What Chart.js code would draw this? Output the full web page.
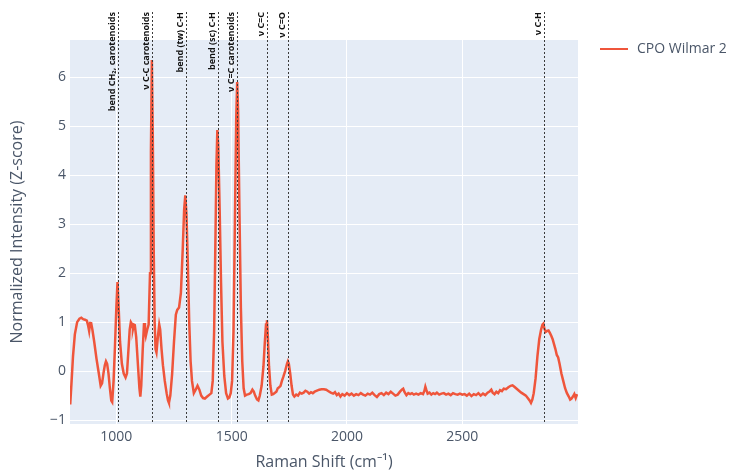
<!DOCTYPE html>
<html>
<head>
<meta charset="utf-8">
<script src="https://cdn.jsdelivr.net/npm/chart.js@4.4.0/dist/chart.umd.min.js"></script>
<style>
	body { margin: 0; background: #fff; }
	#wrap { width: 730px; height: 472px; }
</style>
</head>
<body>
<div id="wrap"><canvas id="chartCanvas" width="730" height="472"></canvas></div>
<script>
// Raman shift (cm-1) and z-score intensity
const shifts = [
	800, 806, 812, 820, 830, 840, 848, 856, 864, 872, 878, 882, 886, 890, 896, 904, 914, 924, 932, 938,
	944, 950, 955, 960, 966, 972, 978, 982, 988, 994, 1000, 1005, 1010, 1016, 1024, 1032, 1040, 1046, 1052, 1058,
	1063, 1068, 1072, 1076, 1080, 1086, 1094, 1100, 1104, 1108, 1114, 1120, 1124, 1128, 1134, 1140, 1146, 1150, 1154, 1158,
	1162, 1166, 1170, 1174, 1180, 1186, 1190, 1196, 1202, 1210, 1218, 1224, 1228, 1234, 1242, 1250, 1258, 1264, 1272, 1280,
	1288, 1294, 1299, 1304, 1310, 1316, 1322, 1328, 1336, 1344, 1352, 1360, 1368, 1376, 1384, 1394, 1404, 1412, 1418, 1424,
	1430, 1434, 1438, 1442, 1448, 1454, 1460, 1468, 1476, 1484, 1490, 1496, 1502, 1508, 1514, 1520, 1524, 1528, 1534, 1540,
	1546, 1552, 1558, 1566, 1574, 1582, 1590, 1596, 1602, 1610, 1616, 1622, 1630, 1638, 1644, 1649, 1653, 1657, 1662, 1668,
	1674, 1680, 1688, 1694, 1700, 1706, 1712, 1718, 1724, 1732, 1740, 1744, 1748, 1754, 1760, 1766, 1772, 1780, 1788, 1796,
	1804, 1812, 1820, 1828, 1836, 1844, 1852, 1860, 1870, 1880, 1890, 1900, 1910, 1920, 1930, 1940, 1948, 1956, 1964, 1972,
	1980, 1990, 2000, 2010, 2020, 2030, 2040, 2050, 2060, 2070, 2080, 2090, 2100, 2110, 2120, 2130, 2140, 2150, 2160, 2170,
	2180, 2190, 2200, 2210, 2220, 2230, 2238, 2244, 2250, 2258, 2266, 2274, 2282, 2290, 2300, 2310, 2320, 2330, 2336, 2340,
	2344, 2350, 2358, 2366, 2374, 2382, 2390, 2400, 2410, 2420, 2430, 2440, 2450, 2460, 2470, 2480, 2490, 2500, 2510, 2520,
	2530, 2540, 2550, 2560, 2570, 2580, 2590, 2600, 2610, 2620, 2626, 2632, 2640, 2648, 2656, 2664, 2672, 2680, 2690, 2700,
	2710, 2718, 2726, 2736, 2746, 2756, 2766, 2776, 2784, 2792, 2798, 2804, 2810, 2818, 2826, 2834, 2842, 2848, 2852, 2856,
	2862, 2868, 2874, 2880, 2886, 2892, 2898, 2904, 2910, 2916, 2922, 2930, 2938, 2946, 2954, 2962, 2968, 2974, 2980, 2986,
	2992, 2998
]
const intensity = [
	-0.68, -0.2, 0.3, 0.75, 1.0, 1.07, 1.09, 1.06, 1.05, 1.03, 0.92, 0.82, 0.98, 1.0, 0.85, 0.6, 0.25, -0.05, -0.3, -0.25,
	-0.05, 0.12, 0.2, 0.15, -0.05, -0.35, -0.6, -0.63, -0.2, 0.5, 1.3, 1.82, 1.3, 0.6, 0.15, -0.05, -0.13, -0.05, 0.4, 0.85,
	1.0, 0.96, 0.86, 0.95, 0.94, 0.7, 0.1, -0.35, -0.52, -0.3, 0.4, 0.98, 0.85, 0.72, 0.85, 0.95, 2.0, 4.5, 6.35, 4.8,
	2.5, 1.0, 0.45, 0.38, 0.7, 0.95, 0.85, 0.45, 0.12, -0.2, -0.45, -0.6, -0.65, -0.5, -0.05, 0.6, 1.15, 1.25, 1.3, 1.6,
	2.5, 3.3, 3.59, 3.2, 2.2, 1.0, 0.2, -0.2, -0.45, -0.38, -0.3, -0.38, -0.5, -0.55, -0.56, -0.52, -0.48, -0.45, -0.2, 0.8,
	2.8, 4.2, 4.92, 4.6, 3.3, 1.8, 0.6, -0.1, -0.45, -0.56, -0.54, -0.45, -0.2, 0.8, 3.0, 5.2, 5.9, 5.3, 3.2, 1.3,
	0.2, -0.35, -0.5, -0.48, -0.47, -0.45, -0.38, -0.42, -0.5, -0.58, -0.6, -0.5, -0.3, 0.1, 0.6, 0.95, 1.04, 0.7, 0.1, -0.3,
	-0.48, -0.47, -0.44, -0.42, -0.35, -0.33, -0.3, -0.2, -0.12, 0.0, 0.15, 0.2, 0.15, -0.05, -0.3, -0.48, -0.52, -0.48, -0.5, -0.44,
	-0.46, -0.44, -0.4, -0.42, -0.46, -0.43, -0.45, -0.42, -0.4, -0.38, -0.37, -0.37, -0.38, -0.41, -0.44, -0.46, -0.43, -0.49, -0.46, -0.52,
	-0.47, -0.5, -0.45, -0.49, -0.46, -0.5, -0.47, -0.49, -0.45, -0.48, -0.5, -0.46, -0.48, -0.44, -0.49, -0.53, -0.47, -0.45, -0.49, -0.44,
	-0.47, -0.42, -0.46, -0.5, -0.48, -0.42, -0.38, -0.36, -0.43, -0.49, -0.45, -0.47, -0.45, -0.48, -0.46, -0.48, -0.45, -0.47, -0.4, -0.32,
	-0.38, -0.46, -0.44, -0.48, -0.45, -0.47, -0.44, -0.48, -0.46, -0.45, -0.48, -0.46, -0.49, -0.45, -0.47, -0.48, -0.46, -0.48, -0.47, -0.5,
	-0.46, -0.51, -0.47, -0.49, -0.45, -0.5, -0.46, -0.49, -0.44, -0.41, -0.38, -0.44, -0.47, -0.42, -0.45, -0.39, -0.41, -0.36, -0.37, -0.33,
	-0.3, -0.29, -0.32, -0.36, -0.4, -0.44, -0.47, -0.5, -0.55, -0.6, -0.65, -0.58, -0.45, -0.15, 0.3, 0.65, 0.85, 0.95, 0.97, 0.87,
	0.8, 0.82, 0.83, 0.78, 0.72, 0.65, 0.55, 0.45, 0.33, 0.28, 0.15, -0.05, -0.2, -0.35, -0.45, -0.52, -0.58, -0.56, -0.52, -0.47,
	-0.55, -0.47
]

// band assignments (dashed markers)
const bandShifts = [1005, 1155, 1300, 1440, 1525, 1655, 1745, 2855]
const bandLabels = [
	'bend CH₂, carotenoids',
	'ν C-C carotenoids',
	'bend (tw) C-H',
	'bend (sc) C-H',
	'ν C=C carotenoids',
	'ν C=C',
	'ν C=O',
	'ν C-H'
]

const xTicks = [1000, 1500, 2000, 2500]
const yTicks = [-1, 0, 1, 2, 3, 4, 5, 6]
const seriesName = 'CPO Wilmar 2'

const lineColor = '#EF553B'
const textColor = '#4a5668'
const fontFamily = '"Open Sans", "Noto Sans", sans-serif'

const points = shifts.map((s, i) => ({ x: s, y: intensity[i] }))

const bandPlugin = {
	id: 'bands',
	beforeDraw(chart) {
		const { ctx, chartArea: a } = chart
		ctx.save()
		ctx.fillStyle = '#E5ECF6'
		ctx.fillRect(a.left, a.top, a.right - a.left, a.bottom - a.top)
		ctx.restore()
	},
	afterDatasetsDraw(chart) {
		const { ctx, chartArea: a, scales: { x } } = chart
		ctx.save()
		bandShifts.forEach((s, i) => {
			const px = Math.round(x.getPixelForValue(s)) + 0.5
			ctx.setLineDash([2, 2])
			ctx.strokeStyle = '#3a3a3a'
			ctx.lineWidth = 1
			ctx.beginPath()
			ctx.moveTo(px, 12)
			ctx.lineTo(px, a.bottom)
			ctx.stroke()

			ctx.save()
			ctx.translate(px - 1.5, 12)
			ctx.rotate(-Math.PI / 2)
			ctx.font = 'bold 9px ' + fontFamily
			ctx.fillStyle = '#111'
			ctx.textAlign = 'right'
			ctx.textBaseline = 'bottom'
			ctx.fillText(bandLabels[i], 0, 0)
			ctx.restore()
		})
		ctx.restore()
	},
	afterDraw(chart) {
		const { ctx } = chart
		ctx.save()
		ctx.strokeStyle = lineColor
		ctx.lineWidth = 2
		ctx.beginPath()
		ctx.moveTo(600, 49)
		ctx.lineTo(628, 49)
		ctx.stroke()
		ctx.font = '14px ' + fontFamily
		ctx.fillStyle = textColor
		ctx.textBaseline = 'middle'
		ctx.fillText(seriesName, 637, 49)
		ctx.restore()
	}
}

new Chart(document.getElementById('chartCanvas'), {
	type: 'line',
	data: {
		datasets: [{
			label: seriesName,
			data: points,
			borderColor: lineColor,
			backgroundColor: lineColor,
			borderWidth: 2.5,
			pointRadius: 0,
			tension: 0,
			fill: false
		}]
	},
	options: {
		responsive: false,
		animation: false,
		layout: { padding: { left: 0, top: 40, right: 152, bottom: 0 } },
		scales: {
			x: {
				type: 'linear',
				min: 799,
				max: 3002,
				afterBuildTicks: scale => { scale.ticks = xTicks.map(v => ({ value: v })) },
				afterFit: scale => { scale.height = 48 },
				grid: { color: '#ffffff', lineWidth: 1, drawTicks: false },
				border: { display: false },
				ticks: {
					color: textColor,
					padding: 5,
					maxRotation: 0,
					font: { family: fontFamily, size: 14 },
					callback: v => String(v)
				},
				title: {
					display: true,
					text: 'Raman Shift (cm⁻¹)',
					color: textColor,
					padding: { top: 0, bottom: 0 },
					font: { family: fontFamily, size: 16 }
				}
			},
			y: {
				min: -1.08,
				max: 6.76,
				afterBuildTicks: scale => { scale.ticks = yTicks.map(v => ({ value: v })) },
				afterFit: scale => { scale.width = 70 },
				grid: { color: '#ffffff', lineWidth: 1, drawTicks: false },
				border: { display: false },
				ticks: {
					color: textColor,
					padding: 4,
					font: { family: fontFamily, size: 14 },
					callback: v => (v < 0 ? '\u2212' + Math.abs(v) : String(v))
				},
				title: {
					display: true,
					text: 'Normalized Intensity (Z-score)',
					color: textColor,
					padding: { top: 8, bottom: 0 },
					font: { family: fontFamily, size: 16 }
				}
			}
		},
		plugins: {
			legend: { display: false },
			tooltip: { enabled: false }
		}
	},
	plugins: [bandPlugin]
})
</script>
</body>
</html>
